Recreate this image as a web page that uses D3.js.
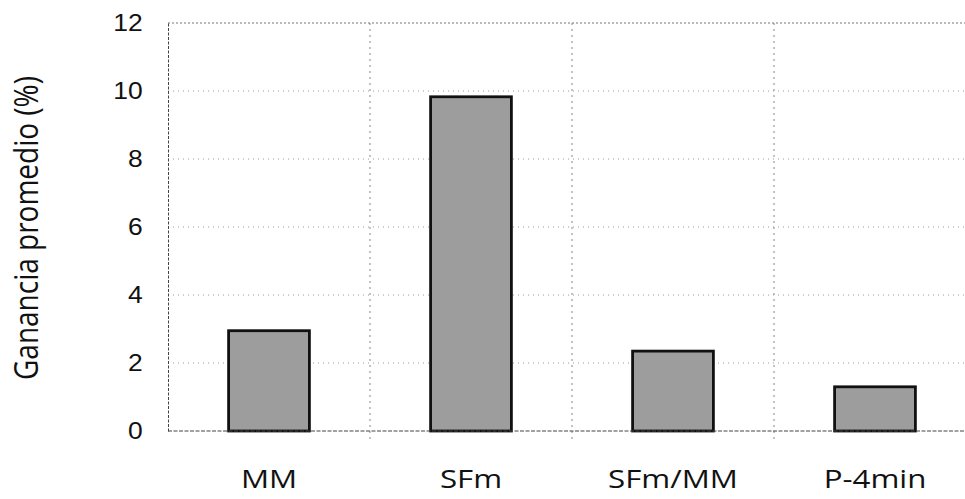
<!DOCTYPE html>
<html>
<head>
<meta charset="utf-8">
<script src="https://cdn.jsdelivr.net/npm/d3@7/dist/d3.min.js"></script>
<style>
  html, body { margin: 0; padding: 0; background: #fff; }
  svg { display: block; }
</style>
</head>
<body>
<svg id="chart" width="965" height="499"></svg>
<script>
// Average gain per method
const categories = ["MM", "SFm", "SFm/MM", "P-4min"];
const gains = [2.95, 9.83, 2.35, 1.3];
const yTicks = [0, 2, 4, 6, 8, 10, 12];

const svg = d3.select("#chart");
const plotLeft = 168, plotRight = 976, plotTop = 23, plotBottom = 431;

const x = d3.scaleBand().domain(categories).range([plotLeft, plotRight]).paddingInner(0.6).paddingOuter(0.3);
const xb = d3.scaleBand().domain(categories).range([plotLeft, plotRight]);
const y = d3.scaleLinear().domain([0, 12]).range([plotBottom, plotTop]);

// Horizontal grid lines
svg.append("g").selectAll("line")
  .data(yTicks.filter(d => d > 0 && d < 12))
  .join("line")
  .attr("x1", plotLeft).attr("x2", 965)
  .attr("y1", d => y(d)).attr("y2", d => y(d))
  .attr("stroke", "#9a9a9a").attr("stroke-width", 1)
  .attr("stroke-dasharray", "1,4");

// Vertical grid lines between categories
svg.append("g").selectAll("line")
  .data(categories.slice(1))
  .join("line")
  .attr("x1", d => xb(d)).attr("x2", d => xb(d))
  .attr("y1", plotTop).attr("y2", plotBottom + 8)
  .attr("stroke", "#888").attr("stroke-width", 1)
  .attr("stroke-dasharray", "2,4");

// Top frame line
svg.append("line")
  .attr("x1", plotLeft).attr("x2", 965).attr("y1", plotTop).attr("y2", plotTop)
  .attr("stroke", "#777").attr("stroke-width", 1).attr("stroke-dasharray", "2,2");

// Bars
svg.append("g").selectAll("rect")
  .data(categories)
  .join("rect")
  .attr("x", d => x(d))
  .attr("y", (d, i) => y(gains[i]))
  .attr("width", x.bandwidth())
  .attr("height", (d, i) => y(0) - y(gains[i]))
  .attr("fill", "#9d9d9d")
  .attr("stroke", "#111").attr("stroke-width", 2.8);

// Y axis
const yAxis = svg.append("g")
  .attr("transform", `translate(${plotLeft},0)`)
  .call(d3.axisLeft(y).tickValues(yTicks).tickSize(0).tickPadding(22));
yAxis.select(".domain").attr("stroke", "#444").attr("stroke-dasharray", "3,1.5");
yAxis.selectAll("text")
  .attr("transform", "scale(1.15,1)")
  .style("font-family", "'Liberation Sans', Arial, sans-serif")
  .style("font-size", "23px").style("fill", "#111");

// X axis
const xAxis = svg.append("g")
  .attr("transform", `translate(0,${plotBottom})`)
  .call(d3.axisBottom(x).tickSize(0).tickPadding(39));
xAxis.select(".domain").attr("stroke", "#444").attr("stroke-dasharray", "4,1.5")
  .attr("d", `M${plotLeft},0H965`);
xAxis.selectAll("text")
  .attr("transform", "scale(1.25,1)")
  .style("font-family", "'Open Sans', 'Noto Sans', sans-serif")
  .style("font-size", "25px").style("fill", "#111");

// Y axis title
svg.append("text")
  .attr("transform", `translate(38,228) scale(1.2,1) rotate(-90)`)
  .attr("text-anchor", "middle")
  .style("font-family", "'Open Sans', 'Noto Sans', sans-serif")
  .style("font-size", "28px").style("fill", "#111")
  .text("Ganancia promedio (%)");
</script>
</body>
</html>
